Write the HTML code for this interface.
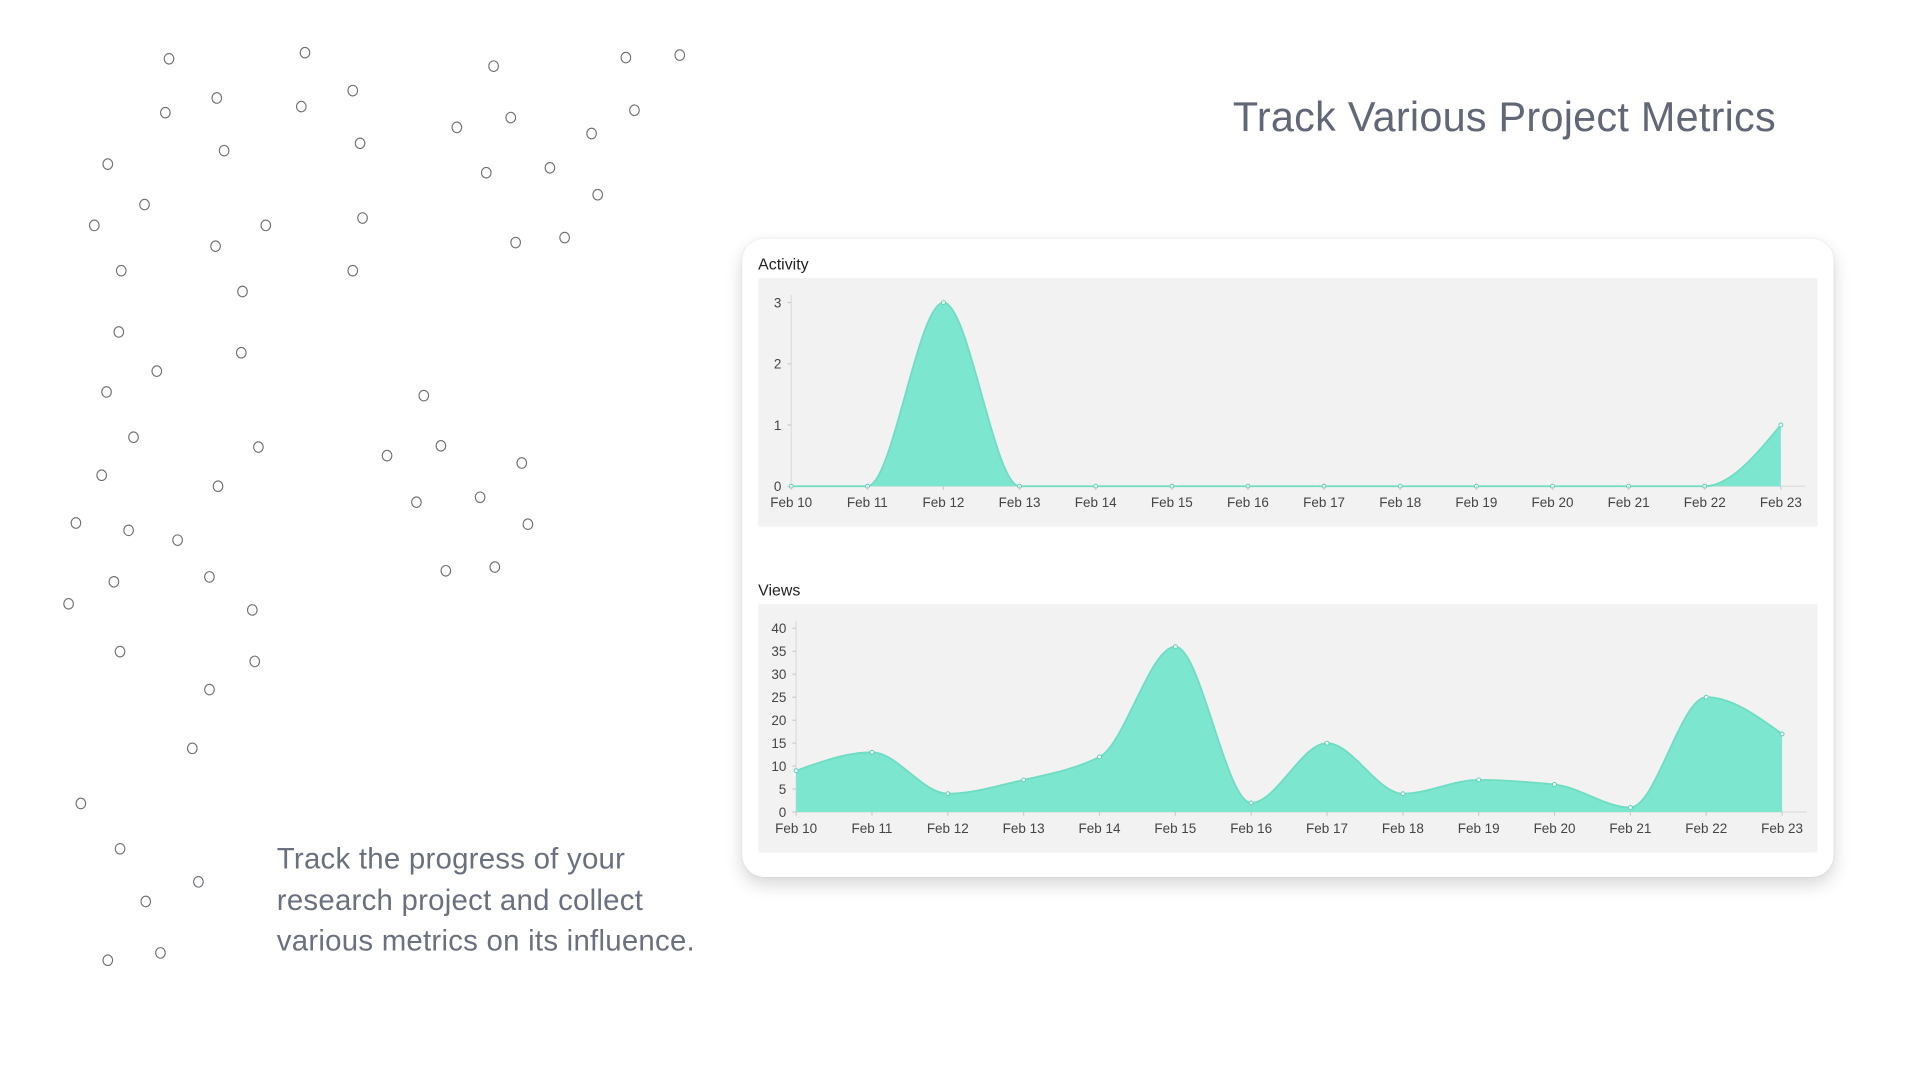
<!DOCTYPE html>
<html><head><meta charset="utf-8"><title>Track Various Project Metrics</title>
<style>
html,body{margin:0;padding:0;background:#fff;width:1920px;height:1080px;overflow:hidden}
#wrap{position:absolute;left:0;top:0;width:1568px;height:882px;transform:scale(1.2248);transform-origin:0 0;font-family:"Liberation Sans",sans-serif}
#title{position:absolute;right:118px;top:77px;font-size:33.8px;color:#626778;font-weight:300;letter-spacing:0.2px;white-space:nowrap}
#para{position:absolute;left:226px;top:685px;font-size:24px;line-height:33.5px;color:#6b7080;width:370px;letter-spacing:0.2px}
#card{position:absolute;left:606px;top:195px;width:891px;height:521px;background:#fff;border-radius:18px;box-shadow:0 6px 14px rgba(0,0,0,0.16),0 0 3px rgba(0,0,0,0.06)}
.ctitle{position:absolute;font-size:13px;color:#222}
.panel{position:absolute;background:#f2f2f2;border-radius:2px}
</style></head><body>
<div id="wrap">
<svg id="dots" width="600" height="820" style="position:absolute;left:0;top:0"></svg>
<div id="title">Track Various Project Metrics</div>
<div id="para">Track the progress of your research project and collect various metrics on its influence.</div>
<div id="card">
  <div class="ctitle" style="left:13px;top:13px">Activity</div>
  <div class="panel" style="left:13px;top:32px;width:865px;height:203px"></div>
  <div class="ctitle" style="left:13px;top:279px">Views</div>
  <div class="panel" style="left:13px;top:298px;width:865px;height:203px"></div>
  <svg id="charts" width="891" height="521" style="position:absolute;left:0;top:0"></svg>
</div>
</div>
<script>
const dates=["Feb 10","Feb 11","Feb 12","Feb 13","Feb 14","Feb 15","Feb 16","Feb 17","Feb 18","Feb 19","Feb 20","Feb 21","Feb 22","Feb 23"];
const activityValues=[0,0,3,0,0,0,0,0,0,0,0,0,0,1];
const activityTicks=[0,1,2,3];
const viewsValues=[9,13,4,7,12,36,2,15,4,7,6,1,25,17];
const viewsTicks=[0,5,10,15,20,25,30,35,40];
const dotPts=[[138,48],[249,43],[177,80],[135,92],[288,74],[246,87],[183,123],[294,117],[88,134],[118,167],[77,184],[217,184],[296,178],[176,201],[99,221],[288,221],[198,238],[97,271],[197,288],[128,303],[87,320],[109,357],[211,365],[83,388],[178,397],[62,427],[105,433],[145,441],[93,475],[171,471],[56,493],[206,498],[98,532],[208,540],[171,563],[157,611],[66,656],[98,693],[162,720],[119,736],[131,778],[88,784],[403,54],[511,47],[555,45],[417,96],[373,104],[518,90],[483,109],[397,141],[449,137],[488,159],[421,198],[461,194],[346,323],[360,364],[316,372],[426,378],[392,406],[340,410],[431,428],[364,466],[404,463]];
const NS="http://www.w3.org/2000/svg";
function mk(t,a,p){const e=document.createElementNS(NS,t);for(const k in a)e.setAttribute(k,a[k]);p.appendChild(e);return e;}
const dots=document.getElementById('dots');
dotPts.forEach(p=>{const c=mk('ellipse',{cx:p[0],cy:p[1],rx:3.9,ry:4.3,fill:'none',stroke:'#6e6e74','stroke-width':0.9},dots);

});

function monotone(xs,ys){const n=xs.length,d=[],m=[];for(let i=0;i<n-1;i++)d.push((ys[i+1]-ys[i])/(xs[i+1]-xs[i]));
m[0]=d[0];m[n-1]=d[n-2];for(let i=1;i<n-1;i++){if(d[i-1]*d[i]<=0)m[i]=0;else{const h0=xs[i]-xs[i-1],h1=xs[i+1]-xs[i];m[i]=3*(h0+h1)/((2*h1+h0)/d[i-1]+(h1+2*h0)/d[i]);}}
m[0]=(3*d[0]-m[1])/2; m[n-1]=(3*d[n-2]-m[n-2])/2;
if(d[0]===0)m[0]=0; if(d[n-2]===0)m[n-1]=0;
let s=`M${xs[0]},${ys[0]}`;for(let i=0;i<n-1;i++){const h=(xs[i+1]-xs[i])/3;s+=` C${xs[i]+h},${ys[i]+m[i]*h} ${xs[i+1]-h},${ys[i+1]-m[i+1]*h} ${xs[i+1]},${ys[i+1]}`;}return s;}

const svg=document.getElementById('charts');
function chart(name,vals,ticks,x0,x1,y0,y1,ymax){
  const g=mk('g',{},svg);
  
  
  const xs=i=>x0+(x1-x0)*i/(dates.length-1);
  const ys=v=>y0-(y0-y1)*v/ymax;
  mk('line',{x1:x0,y1:y1-6,x2:x0,y2:y0,stroke:'#ddd','stroke-width':1},g);
  mk('line',{x1:x0,y1:y0,x2:x1+20,y2:y0,stroke:'#ddd','stroke-width':1},g);
  ticks.forEach(t=>{const tx=mk('text',{x:x0-8,y:ys(t)+4,'text-anchor':'end','font-size':11,fill:'#444','font-family':'Liberation Sans, sans-serif'},g);tx.textContent=t;
    
    
    mk('line',{x1:x0-3,y1:ys(t),x2:x0,y2:ys(t),stroke:'#ccc'},g);});
  const X=vals.map((v,i)=>xs(i)),Y=vals.map(v=>ys(v));
  const line=monotone(X,Y);
  const area=mk('path',{d:line+` L${X[X.length-1]},${y0} L${X[0]},${y0} Z`,fill:'#7de6cf'},g);
  
  
  mk('path',{d:line,fill:'none',stroke:'#6fdcc4','stroke-width':1.5},g);
  vals.forEach((v,i)=>{const c=mk('circle',{cx:X[i],cy:Y[i],r:1.6,fill:'#fff',stroke:'#5fcfb6','stroke-width':0.8},g);
    
    
    mk('line',{x1:X[i],y1:y0,x2:X[i],y2:y0+3,stroke:'#ccc'},g);
    const t=mk('text',{x:X[i],y:y0+17,'text-anchor':'middle','font-size':11,fill:'#444','font-family':'Liberation Sans, sans-serif'},g);t.textContent=dates[i];
    
    });
}
chart('activity',activityValues,activityTicks,40,848,202,52,3);
chart('views',viewsValues,viewsTicks,44,849,468,318,40);
</script>
</body></html>
